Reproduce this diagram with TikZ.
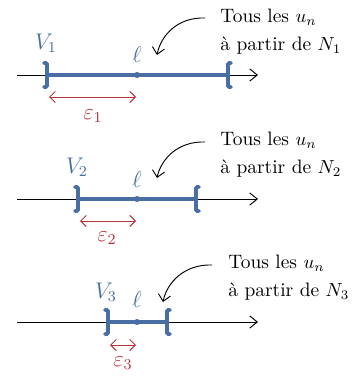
\documentclass[tikz,border=0pt]{standalone}
\usetikzlibrary{arrows.meta,calc}
\definecolor{vblue}{RGB}{72,110,163}
\definecolor{ered}{RGB}{180,52,58}
\begin{document}
\begin{tikzpicture}[x=0.53pt,y=-0.53pt,
  axisline/.style={line width=0.5pt,-{Straight Barb[length=4pt,width=6.5pt]}},
  seg/.style={vblue,line width=1.9pt},
  bracket/.style={vblue,line width=1.9pt,rounded corners=0.6pt,line cap=round},
  ldot/.style={circle,fill=vblue,inner sep=0pt,minimum size=3.2pt},
  epsarrow/.style={ered,line width=0.5pt,{Straight Barb[length=3pt,width=6pt]}-{Straight Barb[length=3pt,width=6pt]}},
  callout/.style={line width=0.5pt,-{Straight Barb[length=3.5pt,width=6.5pt]}},
  lab/.style={inner sep=0pt,font=\large},
  txt/.style={inner sep=0pt,align=left,anchor=north west,font=\fontsize{10.3}{14.5}\selectfont}]
\useasboundingbox (0,0) rectangle (363,378);

% ---------- row 1 ----------
\coordinate (a1s) at (17,75);
\coordinate (a1e) at (258,75);
\coordinate (l1) at (47,75);
\coordinate (r1) at (228,75);
\draw[axisline] (a1s) -- (a1e);
\draw[seg] (l1) -- (r1);
\draw[bracket] ($(l1)+(-3,-12)$) -- ($(l1)+(0,-12)$) -- ($(l1)+(0,12)$) -- ($(l1)+(-3,12)$);
\node[ldot] (p1) at (137,75) {};
\draw[bracket] ($(r1)+(3,-12)$) -- ($(r1)+(0,-12)$) -- ($(r1)+(0,12)$) -- ($(r1)+(3,12)$);
\node[lab,text=vblue] (V1) at (46,43) {$V_1$};
\node[lab,text=vblue] (ell1) at (137,55) {$\ell$};
\coordinate (e1a) at (49,97);
\coordinate (e1b) at (136,97);
\draw[epsarrow] (e1a) -- (e1b);
\node[lab,text=ered] (eps1) at (93,116) {$\varepsilon_1$};
\node[txt] (t1) at (220,9) {Tous les $u_n$\\à partir de $N_1$};
\coordinate (c1s) at (205,18);
\coordinate (c1e) at (157,55);
\draw[callout] (c1s) .. controls (178,17) and (161,35) .. (c1e);

% ---------- row 2 ----------
\coordinate (a2s) at (17,199);
\coordinate (a2e) at (258,199);
\coordinate (l2) at (78,199);
\coordinate (r2) at (196,199);
\draw[axisline] (a2s) -- (a2e);
\draw[seg] (l2) -- (r2);
\draw[bracket] ($(l2)+(-3,-12)$) -- ($(l2)+(0,-12)$) -- ($(l2)+(0,12)$) -- ($(l2)+(-3,12)$);
\node[ldot] (p2) at (137,199) {};
\draw[bracket] ($(r2)+(3,-12)$) -- ($(r2)+(0,-12)$) -- ($(r2)+(0,12)$) -- ($(r2)+(3,12)$);
\node[lab,text=vblue] (V2) at (77,167) {$V_2$};
\node[lab,text=vblue] (ell2) at (137,180) {$\ell$};
\coordinate (e2a) at (80,221);
\coordinate (e2b) at (136,221);
\draw[epsarrow] (e2a) -- (e2b);
\node[lab,text=ered] (eps2) at (107,238) {$\varepsilon_2$};
\node[txt] (t2) at (220,132) {Tous les $u_n$\\à partir de $N_2$};
\coordinate (c2s) at (205,142);
\coordinate (c2e) at (157,178);
\draw[callout] (c2s) .. controls (178,141) and (161,159) .. (c2e);

% ---------- row 3 ----------
\coordinate (a3s) at (17,322);
\coordinate (a3e) at (258,322);
\coordinate (l3) at (108,322);
\coordinate (r3) at (167,322);
\draw[axisline] (a3s) -- (a3e);
\draw[seg] (l3) -- (r3);
\draw[bracket] ($(l3)+(-3,-12)$) -- ($(l3)+(0,-12)$) -- ($(l3)+(0,12)$) -- ($(l3)+(-3,12)$);
\node[ldot] (p3) at (137,322) {};
\draw[bracket] ($(r3)+(3,-12)$) -- ($(r3)+(0,-12)$) -- ($(r3)+(0,12)$) -- ($(r3)+(3,12)$);
\node[lab,text=vblue] (V3) at (106,292) {$V_3$};
\node[lab,text=vblue] (ell3) at (137,300) {$\ell$};
\coordinate (e3a) at (110,345);
\coordinate (e3b) at (136,345);
\draw[epsarrow] (e3a) -- (e3b);
\node[lab,text=ered] (eps3) at (123,363) {$\varepsilon_3$};
\node[txt] (t3) at (228,255) {Tous les $u_n$\\à partir de $N_3$};
\coordinate (c3s) at (212,265);
\coordinate (c3e) at (163,302);
\draw[callout] (c3s) .. controls (185,264) and (167,282) .. (c3e);
\end{tikzpicture}
\end{document}
